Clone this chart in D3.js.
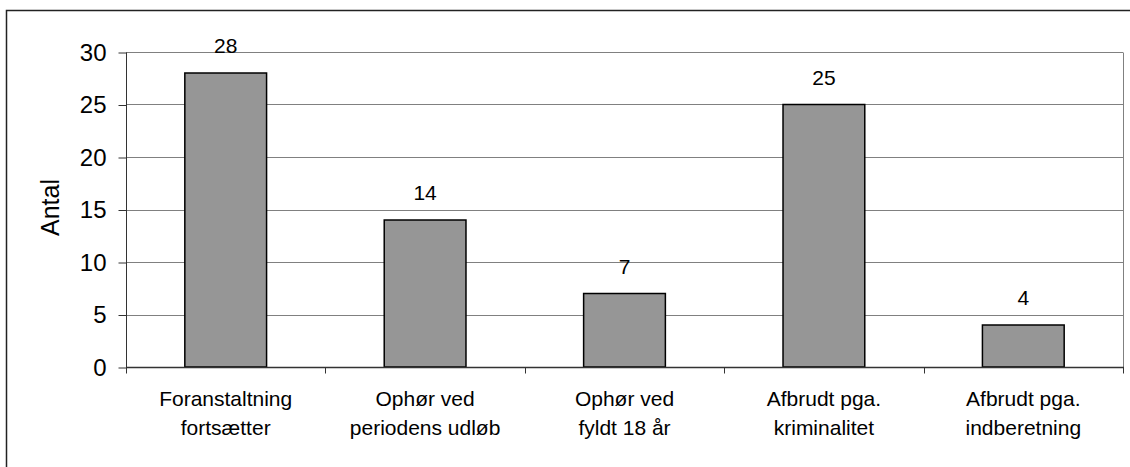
<!DOCTYPE html>
<html>
<head>
<meta charset="utf-8">
<script src="https://cdn.jsdelivr.net/npm/d3@7"></script>
<style>
  body { margin: 0; background: #fff; }
  svg { display: block; font-family: "Liberation Sans", Arial, sans-serif; }
</style>
</head>
<body>
<div id="chart"></div>
<script>
// Data
const categories = [
    'Foranstaltning\nfortsætter',
    'Ophør ved\nperiodens udløb',
    'Ophør ved\nfyldt 18 år',
    'Afbrudt pga.\nkriminalitet',
    'Afbrudt pga.\nindberetning'
];
const values = [28, 14, 7, 25, 4];
const yTicks = [0, 5, 10, 15, 20, 25, 30];
const yLabel = 'Antal';

const width = 1130;
const height = 467;
const margin = { top: 52, right: 7, bottom: 100, left: 126 };

const svg = d3.select('#chart').append('svg')
    .attr('width', width)
    .attr('height', height);

// outer chart frame (right/bottom edges fall outside the picture)
svg.append('rect')
    .attr('x', 6.5).attr('y', 10.5)
    .attr('width', width + 10).attr('height', height + 10)
    .attr('fill', 'none')
    .attr('stroke', '#222')
    .attr('stroke-width', 1.5);

const x = d3.scaleBand()
    .domain(categories)
    .range([margin.left, width - margin.right])
    .paddingInner(0.59)
    .paddingOuter(0.295);

const xTicks = d3.scaleBand()
    .domain(categories)
    .range([margin.left, width - margin.right]);

const y = d3.scaleLinear()
    .domain([0, 30])
    .range([height - margin.bottom, margin.top]);

const plotRight = width - margin.right;

// gridlines
svg.append('g')
    .selectAll('line')
    .data(yTicks.filter(d => d > 0))
    .enter().append('line')
    .attr('x1', margin.left).attr('x2', plotRight)
    .attr('y1', d => Math.round(y(d)) + 0.5)
    .attr('y2', d => Math.round(y(d)) + 0.5)
    .attr('stroke', '#808080')
    .attr('stroke-width', 1);

// right border of plot area
svg.append('line')
    .attr('x1', plotRight + 0.5).attr('x2', plotRight + 0.5)
    .attr('y1', Math.round(y(30)) + 0.5).attr('y2', y(0))
    .attr('stroke', '#808080');

// y axis
const yAxis = d3.axisLeft(y)
    .tickValues(yTicks)
    .tickSize(8)
    .tickPadding(12);

svg.append('g')
    .attr('transform', `translate(${margin.left + 0.5},0.5)`)
    .call(yAxis)
    .call(g => g.select('.domain').attr('stroke', '#333').attr('d', `M0,${Math.round(y(30))}V${Math.round(y(0))}`))
    .call(g => g.selectAll('.tick line').attr('stroke', '#333'))
    .call(g => g.selectAll('.tick text')
        .attr('font-size', 24)
        .attr('font-family', '"Liberation Sans", Arial, sans-serif')
        .attr('fill', '#000'));

// bars
svg.append('g')
    .selectAll('rect')
    .data(values)
    .enter().append('rect')
    .attr('x', (d, i) => x(categories[i]))
    .attr('y', d => y(d))
    .attr('width', x.bandwidth())
    .attr('height', d => y(0) - y(d))
    .attr('fill', '#969696')
    .attr('stroke', '#000')
    .attr('stroke-width', 1.5);

// x axis line and ticks
const baseY = Math.round(y(0)) + 0.5;
svg.append('line')
    .attr('x1', margin.left).attr('x2', plotRight + 1)
    .attr('y1', baseY).attr('y2', baseY)
    .attr('stroke', '#333')
    .attr('stroke-width', 1.5);

const tickXs = categories.map(c => xTicks(c)).concat([plotRight]);
svg.append('g')
    .selectAll('line')
    .data(tickXs)
    .enter().append('line')
    .attr('x1', d => Math.round(d) + 0.5).attr('x2', d => Math.round(d) + 0.5)
    .attr('y1', baseY).attr('y2', baseY + 6)
    .attr('stroke', '#333');

// value labels
svg.append('g')
    .selectAll('text')
    .data(values)
    .enter().append('text')
    .attr('x', (d, i) => x(categories[i]) + x.bandwidth() / 2)
    .attr('y', d => y(d) - 20)
    .attr('text-anchor', 'middle')
    .attr('font-size', 21)
    .text(d => d);

// category labels
const catLabels = svg.append('g')
    .selectAll('text')
    .data(categories)
    .enter().append('text')
    .attr('x', d => xTicks(d) + xTicks.bandwidth() / 2)
    .attr('y', 406)
    .attr('text-anchor', 'middle')
    .attr('font-size', 21);

catLabels.each(function (d) {
    const lines = d.split('\n');
    d3.select(this).selectAll('tspan')
        .data(lines)
        .enter().append('tspan')
        .attr('x', xTicks(d) + xTicks.bandwidth() / 2)
        .attr('dy', (l, i) => i === 0 ? 0 : 29)
        .text(l => l);
});

// y axis title
svg.append('text')
    .attr('transform', `translate(59,${(y(0) + y(30)) / 2 - 2}) rotate(-90)`)
    .attr('text-anchor', 'middle')
    .attr('font-size', 25)
    .text(yLabel);
</script>
</body>
</html>
